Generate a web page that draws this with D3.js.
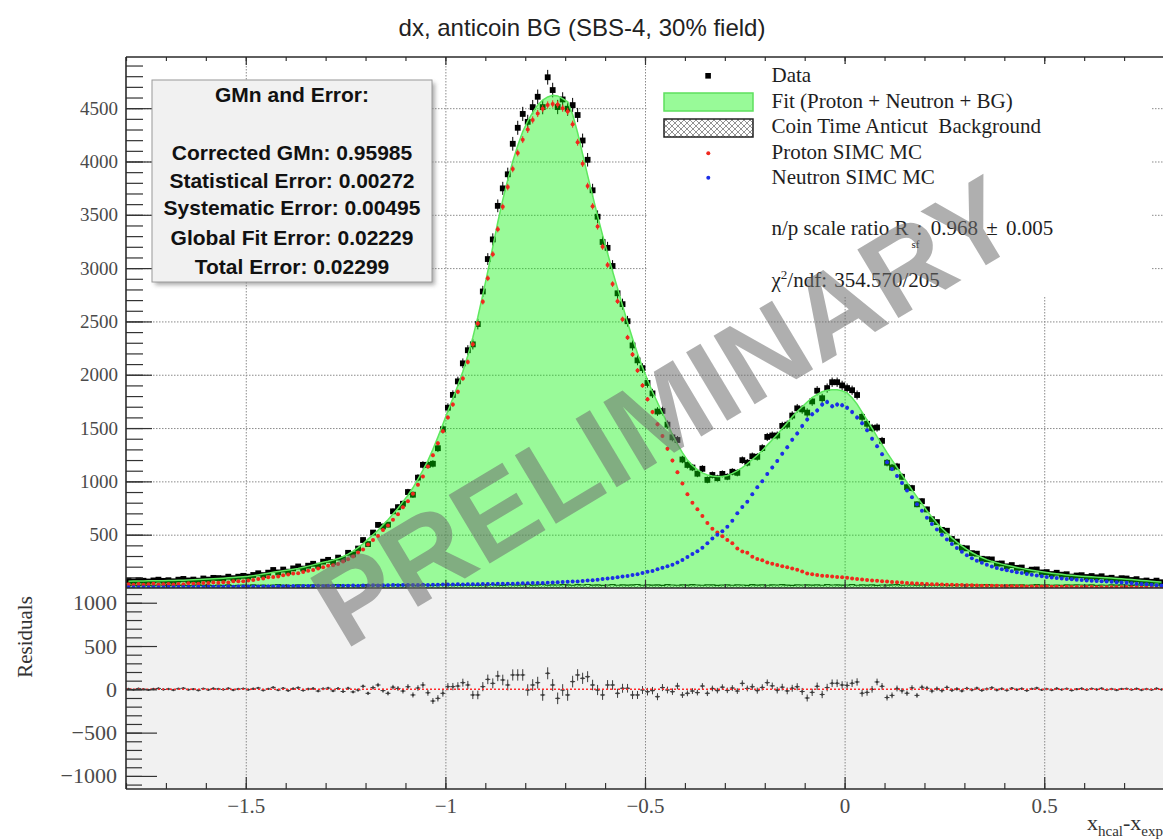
<!DOCTYPE html>
<html>
<head>
<meta charset="utf-8">
<script src="https://cdn.jsdelivr.net/npm/d3@7"></script>
<style>
  html, body { margin: 0; padding: 0; background: #fff; }
  svg { display: block; }
</style>
</head>
<body>
<svg id="chart" width="1163" height="840"></svg>
<script>
// Histogram binning of dx = x_hcal - x_exp
const binLow = -1.8;
const binWidth = 0.0125;
const nBins = 208;

// Total fit (proton + neutron + BG), counts per bin
const fitTotal = [
  64, 65, 65, 66, 67, 67, 68, 69,
  70, 71, 72, 73, 75, 77, 79, 82,
  84, 86, 89, 92, 95, 99, 103, 106,
  110, 116, 123, 131, 139, 147, 154, 161,
  168, 176, 184, 194, 205, 217, 229, 241,
  250, 262, 276, 295, 318, 345, 378, 415,
  458, 500, 542, 592, 640, 694, 748, 810,
  870, 940, 1020, 1105, 1195, 1300, 1415, 1535,
  1660, 1780, 1900, 2030, 2180, 2350, 2540, 2750,
  2970, 3200, 3430, 3640, 3830, 4000, 4150, 4280,
  4380, 4460, 4530, 4575, 4605, 4620, 4615, 4590,
  4560, 4440, 4270, 4070, 3870, 3680, 3490, 3310,
  3140, 2970, 2810, 2650, 2490, 2340, 2200, 2070,
  1950, 1840, 1740, 1640, 1540, 1440, 1350, 1270,
  1200, 1150, 1110, 1080, 1060, 1050, 1045, 1045,
  1055, 1075, 1100, 1130, 1165, 1205, 1245, 1290,
  1340, 1390, 1440, 1495, 1550, 1605, 1655, 1700,
  1745, 1785, 1815, 1840, 1855, 1860, 1860, 1850,
  1830, 1785, 1725, 1650, 1575, 1500, 1420, 1345,
  1270, 1200, 1130, 1060, 990, 920, 855, 790,
  725, 665, 610, 560, 515, 470, 430, 395,
  362, 333, 308, 286, 266, 250, 236, 224,
  213, 203, 193, 184, 175, 167, 159, 152,
  145, 139, 133, 128, 123, 119, 115, 111,
  108, 105, 102, 99, 96, 93, 90, 87,
  83, 79, 75, 71, 67, 63, 59, 56
];

// Residuals (data - fit) per bin
const residuals = [
  5, -3, 8, 2, -6, 4, 10, -2,
  3, -8, 6, 12, -4, 2, -10, 7,
  -5, 9, 4, -2, 11, -7, 3, 8,
  -4, 6, 15, -10, 5, 22, -8, 12,
  -15, 8, 18, -12, 4, 10, -20, 6,
  14, -18, 9, -25, 12, -30, -8, 35,
  -46, 20, 50, -15, -46, 25, 10, -20,
  30, -65, 15, 50, -40, -135, -104, -46,
  31, 31, 38, 77, 50, -65, -65, 31,
  115, 69, 154, 108, 50, 166, 166, 166,
  -8, 50, 77, -65, 185, 50, -104, -8,
  -65, 89, 166, 127, 146, 50, -8, -65,
  50, 50, -46, 12, 12, -65, -65, -8,
  -27, -15, -85, 20, -8, -27, 38, -65,
  -46, -20, -38, 38, -46, 10, -15, 25,
  -12, 15, -20, 69, 10, 30, -15, 22,
  77, 40, -10, 25, -18, 12, 30, -25,
  -100, -35, 35, -60, 20, 70, 70, 50,
  45, 70, 85, -45, -35, 0, 85, 35,
  -95, -70, 10, -17, -45, 17, -70, 24,
  12, -20, 8, -15, 22, -10, 5, -18,
  10, -6, 14, -12, 4, 18, -8, 6,
  -10, 12, -4, 8, -14, 5, 15, -6,
  4, -8, 10, -3, 6, -12, 2, 9,
  -5, 7, -2, 11, -6, 3, -9, 5,
  6, -4, 8, -7, 3, -5, 10, -2
];

// Proton SIMC MC (scaled)
const protonMC = [
  34, 31, 37, 30, 34, 39, 32, 35,
  38, 33, 38, 36, 44, 41, 39, 48,
  46, 52, 50, 55, 52, 64, 64, 64,
  71, 74, 84, 90, 101, 104, 107, 119,
  126, 135, 138, 149, 162, 169, 184, 194,
  208, 214, 225, 249, 269, 296, 333, 362,
  408, 450, 488, 544, 587, 641, 691, 758,
  814, 885, 969, 1045, 1139, 1244, 1357, 1471,
  1600, 1720, 1840, 1965, 2120, 2285, 2480, 2685,
  2905, 3130, 3365, 3575, 3760, 3930, 4080, 4205,
  4300, 4390, 4450, 4495, 4530, 4540, 4535, 4500,
  4470, 4350, 4180, 3980, 3770, 3580, 3390, 3200,
  3030, 2850, 2690, 2520, 2350, 2190, 2040, 1900,
  1770, 1650, 1535, 1425, 1305, 1195, 1085, 980,
  880, 800, 738, 676, 610, 556, 520, 485,
  451, 419, 370, 342, 330, 294, 273, 261,
  240, 228, 216, 205, 194, 182, 170, 155,
  135, 128, 121, 116, 112, 108, 104, 100,
  96, 90, 85, 80, 76, 71, 67, 63,
  60, 57, 53, 51, 48, 44, 43, 40,
  38, 36, 35, 33, 31, 30, 29, 27,
  26, 25, 24, 22, 21, 20, 20, 19,
  18, 17, 17, 16, 15, 15, 14, 13,
  13, 12, 12, 11, 11, 10, 10, 9,
  9, 9, 8, 8, 8, 7, 7, 7,
  6, 6, 6, 5, 5, 5, 5, 4
];

// Neutron SIMC MC (scaled)
const neutronMC = [
  6, 7, 6, 7, 8, 7, 8, 8,
  9, 8, 9, 10, 9, 10, 11, 10,
  11, 12, 11, 12, 13, 12, 13, 14,
  14, 13, 15, 14, 16, 15, 16, 17,
  16, 18, 17, 18, 19, 18, 20, 19,
  20, 21, 20, 22, 21, 23, 22, 24,
  23, 25, 24, 26, 25, 27, 26, 28,
  27, 29, 28, 30, 29, 31, 30, 32,
  32, 33, 34, 33, 35, 36, 35, 37,
  38, 37, 39, 40, 41, 40, 42, 44,
  45, 46, 48, 47, 50, 52, 53, 56,
  58, 62, 61, 66, 70, 72, 78, 84,
  90, 94, 100, 107, 112, 121, 130, 140,
  152, 160, 175, 190, 204, 218, 240, 262,
  290, 318, 345, 378, 420, 465, 500, 532,
  575, 630, 700, 760, 810, 880, 945, 1000,
  1070, 1130, 1190, 1260, 1320, 1390, 1450, 1520,
  1580, 1630, 1665, 1720, 1745, 1705, 1720, 1715,
  1690, 1650, 1600, 1545, 1480, 1400, 1330, 1255,
  1180, 1115, 1050, 985, 915, 850, 785, 725,
  660, 600, 548, 500, 455, 412, 374, 340,
  308, 280, 256, 236, 217, 202, 188, 177,
  167, 158, 148, 140, 132, 124, 117, 111,
  104, 99, 93, 89, 84, 81, 77, 74,
  71, 68, 66, 63, 60, 58, 55, 52,
  49, 45, 41, 38, 34, 30, 26, 24
];

// Coin-time anticut background
const background = [
  24, 27, 22, 29, 25, 21, 28, 26,
  23, 30, 25, 27, 22, 26, 29, 24,
  27, 22, 28, 25, 30, 23, 26, 28,
  25, 29, 24, 27, 22, 28, 31, 25,
  26, 23, 29, 27, 24, 30, 25, 28,
  22, 27, 31, 24, 28, 26, 23, 29,
  27, 25, 30, 22, 28, 26, 31, 24,
  29, 26, 23, 30, 27, 25, 28, 32,
  26, 29, 24, 31, 27, 28, 25, 30,
  28, 33, 27, 25, 31, 29, 26, 30,
  31, 27, 29, 34, 26, 30, 28, 32,
  29, 26, 31, 28, 33, 27, 30, 25,
  28, 32, 26, 30, 27, 29, 33, 26,
  30, 27, 29, 25, 31, 28, 26, 30,
  27, 31, 28, 26, 30, 29, 25, 28,
  29, 26, 30, 28, 25, 31, 27, 29,
  26, 30, 28, 31, 27, 25, 29, 28,
  30, 27, 29, 26, 31, 28, 30, 27,
  28, 31, 26, 29, 27, 30, 25, 28,
  27, 29, 31, 26, 28, 30, 27, 29,
  30, 26, 28, 31, 27, 25, 29, 28,
  28, 30, 26, 29, 31, 27, 28, 26,
  25, 29, 27, 30, 26, 28, 31, 27,
  29, 26, 28, 25, 30, 27, 29, 28,
  27, 30, 25, 28, 26, 29, 27, 30,
  28, 25, 29, 27, 30, 26, 28, 25
];

// Axis ticks
const xTicks = [-1.5, -1, -0.5, 0, 0.5];
const yTicksTop = [500, 1000, 1500, 2000, 2500, 3000, 3500, 4000, 4500];
const yTicksRes = [-1000, -500, 0, 500, 1000];

// Text blocks
const titleText = "dx, anticoin BG (SBS-4, 30% field)";
const statsLines = [
  "Corrected GMn: 0.95985",
  "Statistical Error: 0.00272",
  "Systematic Error: 0.00495",
  "Global Fit Error: 0.02229",
  "Total Error: 0.02299"
];
const legendLabels = [
  "Data",
  "Fit (Proton + Neutron + BG)",
  "Coin Time Anticut \u00a0Background",
  "Proton SIMC MC",
  "Neutron SIMC MC"
];

// ---------------------------------------------------------------------------
const W = 1163, H = 840;
const plotL = 126, plotR = 1164, topT = 57, split = 588, botB = 789;

const svg = d3.select("#chart");
const defs = svg.append("defs");

const x = d3.scaleLinear().domain([-1.8, 0.8]).range([plotL, plotR]);
const y = d3.scaleLinear().domain([0, 4980]).range([split, topT]);
const yr = d3.scaleLinear().domain([-1151, 1170]).range([botB, split]);

const centers = d3.range(nBins).map(i => binLow + (i + 0.5) * binWidth);
const dataCounts = fitTotal.map((f, i) => f + residuals[i]);
const bins = centers.map((c, i) => ({
  c, fit: fitTotal[i], data: dataCounts[i], res: residuals[i],
  p: protonMC[i], n: neutronMC[i], bg: background[i]
}));

const fmt = d => d === 0 ? "0" : (d < 0 ? "\u2212" : "") + Math.abs(d);
const serif = "'Liberation Serif', 'Times New Roman', serif";
const sans = "'Liberation Sans', Arial, Helvetica, sans-serif";

// clip paths for the two pads
defs.append("clipPath").attr("id", "clipTop")
  .append("rect").attr("x", plotL).attr("y", topT).attr("width", W - plotL).attr("height", split - topT);
defs.append("clipPath").attr("id", "clipRes")
  .append("rect").attr("x", plotL).attr("y", split).attr("width", W - plotL).attr("height", botB - split);

// cross-hatch used by the background histogram
const hatch = defs.append("pattern").attr("id", "hatch")
  .attr("patternUnits", "userSpaceOnUse").attr("width", 6).attr("height", 6);
hatch.append("rect").attr("width", 6).attr("height", 6).attr("fill", "#fff");
hatch.append("path").attr("d", "M0,0 L6,6 M6,0 L0,6").attr("stroke", "#666").attr("stroke-width", 0.7);

// soft shadow for the stats box
const shadow = defs.append("filter").attr("id", "shadow").attr("x", "-10%").attr("y", "-10%").attr("width", "130%").attr("height", "130%");
shadow.append("feGaussianBlur").attr("stdDeviation", 2);

// pads
svg.append("rect").attr("width", W).attr("height", H).attr("fill", "#fff");
svg.append("rect").attr("x", plotL).attr("y", split).attr("width", W - plotL).attr("height", botB - split).attr("fill", "#f1f1f1");

// grid
const gridStyle = g => {
  g.select(".domain").remove();
  g.selectAll(".tick line").attr("stroke", "#8a8a8a").attr("stroke-width", 1).attr("stroke-dasharray", "1.5,1.5");
  g.selectAll("text").remove();
};
svg.append("g").attr("transform", `translate(${plotL},0)`)
  .call(d3.axisRight(y).tickValues(yTicksTop).tickSize(W - plotL).tickFormat(""))
  .call(gridStyle);
svg.append("g").attr("transform", `translate(0,${topT})`)
  .call(d3.axisBottom(x).tickValues(xTicks).tickSize(botB - topT).tickFormat(""))
  .call(gridStyle);

// ---------------- upper pad ----------------
const upper = svg.append("g").attr("clip-path", "url(#clipTop)");

// data with statistical errors
upper.append("g").selectAll("line").data(bins).join("line")
  .attr("x1", d => x(d.c)).attr("x2", d => x(d.c))
  .attr("y1", d => y(d.data - Math.sqrt(d.data))).attr("y2", d => y(d.data + Math.sqrt(d.data)))
  .attr("stroke", "#000").attr("stroke-width", 1);
upper.append("g").selectAll("rect").data(bins).join("rect")
  .attr("x", d => x(d.c) - 2.9).attr("y", d => y(d.data) - 2.9)
  .attr("width", 5.8).attr("height", 5.8).attr("fill", "#000");

// anticut background histogram
upper.append("path").datum(bins)
  .attr("d", d3.area().curve(d3.curveStep).x(d => x(d.c)).y0(y(0)).y1(d => y(d.bg)))
  .attr("fill", "url(#hatch)").attr("stroke", "none");
upper.append("path").datum(bins)
  .attr("d", d3.line().curve(d3.curveStep).x(d => x(d.c)).y(d => y(d.bg)))
  .attr("fill", "none").attr("stroke", "#111").attr("stroke-width", 1.2);

// fit (translucent, drawn over the data)
upper.append("path").datum(bins)
  .attr("d", d3.area().x(d => x(d.c)).y0(y(0)).y1(d => y(d.fit)))
  .attr("fill", "rgb(0,242,0)").attr("fill-opacity", 0.4);
upper.append("path").datum(bins)
  .attr("d", d3.line().x(d => x(d.c)).y(d => y(d.fit)))
  .attr("fill", "none").attr("stroke", "#5ee85e").attr("stroke-width", 1.5);

// MC sample error, scaled to the data
const mcErr = v => Math.sqrt(v) * 0.5;
const drawMC = (key, color) => {
  const g = upper.append("g");
  g.selectAll("line").data(bins).join("line")
    .attr("x1", d => x(d.c)).attr("x2", d => x(d.c))
    .attr("y1", d => y(d[key] - mcErr(d[key]))).attr("y2", d => y(d[key] + mcErr(d[key])))
    .attr("stroke", color).attr("stroke-width", 1);
  g.selectAll("circle").data(bins).join("circle")
    .attr("cx", d => x(d.c)).attr("cy", d => y(d[key])).attr("r", 2)
    .attr("fill", color);
};
drawMC("p", "#f0281e");
drawMC("n", "#1c2ee6");

// ---------------- residual pad ----------------
const resPad = svg.append("g").attr("clip-path", "url(#clipRes)");
const rg = resPad.append("g").attr("stroke", "#3c3c3c").attr("stroke-width", 1);
rg.selectAll("line.v").data(bins).join("line").attr("class", "v")
  .attr("x1", d => x(d.c)).attr("x2", d => x(d.c))
  .attr("y1", d => yr(d.res - Math.sqrt(d.data))).attr("y2", d => yr(d.res + Math.sqrt(d.data)));
rg.selectAll("line.h").data(bins).join("line").attr("class", "h")
  .attr("x1", d => x(d.c - binWidth / 2)).attr("x2", d => x(d.c + binWidth / 2))
  .attr("y1", d => yr(d.res)).attr("y2", d => yr(d.res));
resPad.append("g").selectAll("circle").data(bins).join("circle")
  .attr("cx", d => x(d.c)).attr("cy", d => yr(d.res)).attr("r", 1.2).attr("fill", "#3c3c3c");
resPad.append("line")
  .attr("x1", plotL).attr("x2", W).attr("y1", yr(0)).attr("y2", yr(0))
  .attr("stroke", "#ff2a2a").attr("stroke-width", 1.4).attr("stroke-dasharray", "2,2");

// ---------------- axes ----------------
const tickStyle = g => {
  g.select(".domain").remove();
  g.selectAll(".tick line").attr("stroke", "#333").attr("stroke-width", 1.2);
};
const minorTop = d3.range(100, 4980, 100);
const minorRes = d3.range(-1100, 1101, 100);
const xMinor = d3.range(-18, 9).map(k => k / 10);

svg.append("g").attr("transform", `translate(${plotL},0)`)
  .call(d3.axisRight(y).tickValues(minorTop).tickSize(17).tickFormat("")).call(tickStyle);
svg.append("g").attr("transform", `translate(${plotL},0)`)
  .call(d3.axisRight(y).tickValues(yTicksTop).tickSize(26).tickFormat("")).call(tickStyle);
svg.append("g").attr("transform", `translate(${plotL},0)`)
  .call(d3.axisRight(yr).tickValues(minorRes).tickSize(16).tickFormat("")).call(tickStyle);
svg.append("g").attr("transform", `translate(${plotL},0)`)
  .call(d3.axisRight(yr).tickValues(yTicksRes).tickSize(31).tickFormat("")).call(tickStyle);

// x ticks on the bottom, middle and top frames
[[botB, 6, 12, "up"], [split, 4, 8, "up"], [topT, 4, 8, "down"]].forEach(([yy, sMin, sMaj, dir]) => {
  const gen = dir === "up" ? d3.axisTop : d3.axisBottom;
  svg.append("g").attr("transform", `translate(0,${yy})`)
    .call(gen(x).tickValues(xMinor).tickSize(sMin).tickFormat("")).call(tickStyle);
  svg.append("g").attr("transform", `translate(0,${yy})`)
    .call(gen(x).tickValues(xTicks).tickSize(sMaj).tickFormat("")).call(tickStyle);
});

// tick labels
const labelStyle = size => g => {
  g.select(".domain").remove();
  g.selectAll(".tick line").remove();
  g.selectAll("text").attr("font-family", serif).attr("font-size", size).attr("fill", "#4a4a4a");
};
svg.append("g").attr("transform", `translate(${plotL},0)`)
  .call(d3.axisLeft(y).tickValues(yTicksTop).tickSize(0).tickPadding(8).tickFormat(fmt))
  .call(labelStyle(19));
svg.append("g").attr("transform", `translate(${plotL},0)`)
  .call(d3.axisLeft(yr).tickValues(yTicksRes).tickSize(0).tickPadding(9).tickFormat(fmt))
  .call(labelStyle(22));
svg.append("g").attr("transform", `translate(0,${botB})`)
  .call(d3.axisBottom(x).tickValues(xTicks).tickSize(0).tickPadding(9).tickFormat(fmt))
  .call(labelStyle(21));

// frame
const frame = svg.append("g").attr("stroke", "#2a2a2a").attr("stroke-width", 1.6);
frame.append("line").attr("x1", plotL).attr("x2", plotL).attr("y1", topT).attr("y2", botB);
frame.append("line").attr("x1", plotL).attr("x2", W).attr("y1", topT).attr("y2", topT);
frame.append("line").attr("x1", plotL).attr("x2", W).attr("y1", split).attr("y2", split);
frame.append("line").attr("x1", plotL).attr("x2", W).attr("y1", botB).attr("y2", botB);

// ---------------- stats box ----------------
const sb = { x: 152, y: 80, w: 280, h: 202 };
svg.append("rect").attr("x", sb.x + 3).attr("y", sb.y + 3).attr("width", sb.w).attr("height", sb.h)
  .attr("fill", "#777").attr("opacity", 0.6).attr("filter", "url(#shadow)");
svg.append("rect").attr("x", sb.x).attr("y", sb.y).attr("width", sb.w).attr("height", sb.h)
  .attr("fill", "#f1f1f1").attr("stroke", "#9a9a9a").attr("stroke-width", 1);
const sbText = svg.append("g").attr("font-family", sans).attr("font-weight", "bold")
  .attr("font-size", 21).attr("fill", "#111").attr("text-anchor", "middle");
sbText.append("text").attr("x", sb.x + sb.w / 2).attr("y", 102).text("GMn and Error:");
const statBase = [160, 188, 215, 245, 274];
statsLines.forEach((s, i) => sbText.append("text").attr("x", sb.x + sb.w / 2).attr("y", statBase[i]).text(s));

// ---------------- legend ----------------
svg.append("rect").attr("x", 648).attr("y", 64).attr("width", 504).attr("height", 232).attr("fill", "#fff");
const lg = svg.append("g").attr("font-family", serif).attr("font-size", 21).attr("fill", "#1e1e1e");
const legBase = [82, 107.5, 133, 158.5, 184];
const lx = 771.5;
legendLabels.forEach((s, i) => lg.append("text").attr("x", lx).attr("y", legBase[i]).text(s));
svg.append("rect").attr("x", 705.3).attr("y", 73).attr("width", 5.6).attr("height", 5.6).attr("fill", "#000");
svg.append("rect").attr("x", 664).attr("y", 93).attr("width", 89).attr("height", 18)
  .attr("fill", "rgb(152,250,152)").attr("stroke", "#5ee05e").attr("stroke-width", 1.5);
svg.append("rect").attr("x", 664).attr("y", 119).attr("width", 89).attr("height", 18)
  .attr("fill", "url(#hatch)").attr("stroke", "#222").attr("stroke-width", 1.5);
svg.append("circle").attr("cx", 708.3).attr("cy", 153.3).attr("r", 2).attr("fill", "#f0281e");
svg.append("circle").attr("cx", 708.3).attr("cy", 177.7).attr("r", 2).attr("fill", "#1c2ee6");

// scale ratio line: R with a dropped "sf" subscript, value set just after it
const rText = lg.append("text").attr("x", lx).attr("y", 235).text("n/p scale ratio R");
const rEnd = lx + rText.node().getComputedTextLength();
lg.append("text").attr("x", rEnd + 3).attr("y", 248).attr("font-size", 11).text("sf");
lg.append("text").attr("x", rEnd + 8).attr("y", 235).attr("word-spacing", 3).text(": 0.968 \u00b1 0.005");
const chi = lg.append("text").attr("x", lx).attr("y", 287).attr("word-spacing", 2);
chi.append("tspan").text("\u03c7");
chi.append("tspan").attr("font-size", 13).attr("dy", -8).text("2");
chi.append("tspan").attr("dy", 8).text("/ndf: 354.570/205");

// ---------------- watermark ----------------
svg.append("text")
  .attr("transform", "translate(664,410) rotate(-31)")
  .attr("text-anchor", "middle").attr("dy", "0.36em")
  .attr("font-family", sans).attr("font-weight", "bold").attr("font-size", 116)
  .attr("fill", "#6e6e6e").attr("fill-opacity", 0.55)
  .text("PRELIMINARY");

// ---------------- titles ----------------
svg.append("text").attr("x", 582).attr("y", 36).attr("text-anchor", "middle")
  .attr("font-family", sans).attr("font-size", 24).attr("fill", "#222").text(titleText);

svg.append("text").attr("transform", "translate(32,637) rotate(-90)").attr("text-anchor", "middle")
  .attr("font-family", serif).attr("font-size", 21).attr("fill", "#333").text("Residuals");

const xt = svg.append("text").attr("x", 1087).attr("y", 830)
  .attr("font-family", serif).attr("font-size", 22).attr("fill", "#333");
xt.append("tspan").text("x");
xt.append("tspan").attr("font-size", 15).attr("dy", 6).text("hcal");
xt.append("tspan").attr("dy", -6).text("-x");
xt.append("tspan").attr("font-size", 15).attr("dy", 6).text("exp");
</script>
</body>
</html>
